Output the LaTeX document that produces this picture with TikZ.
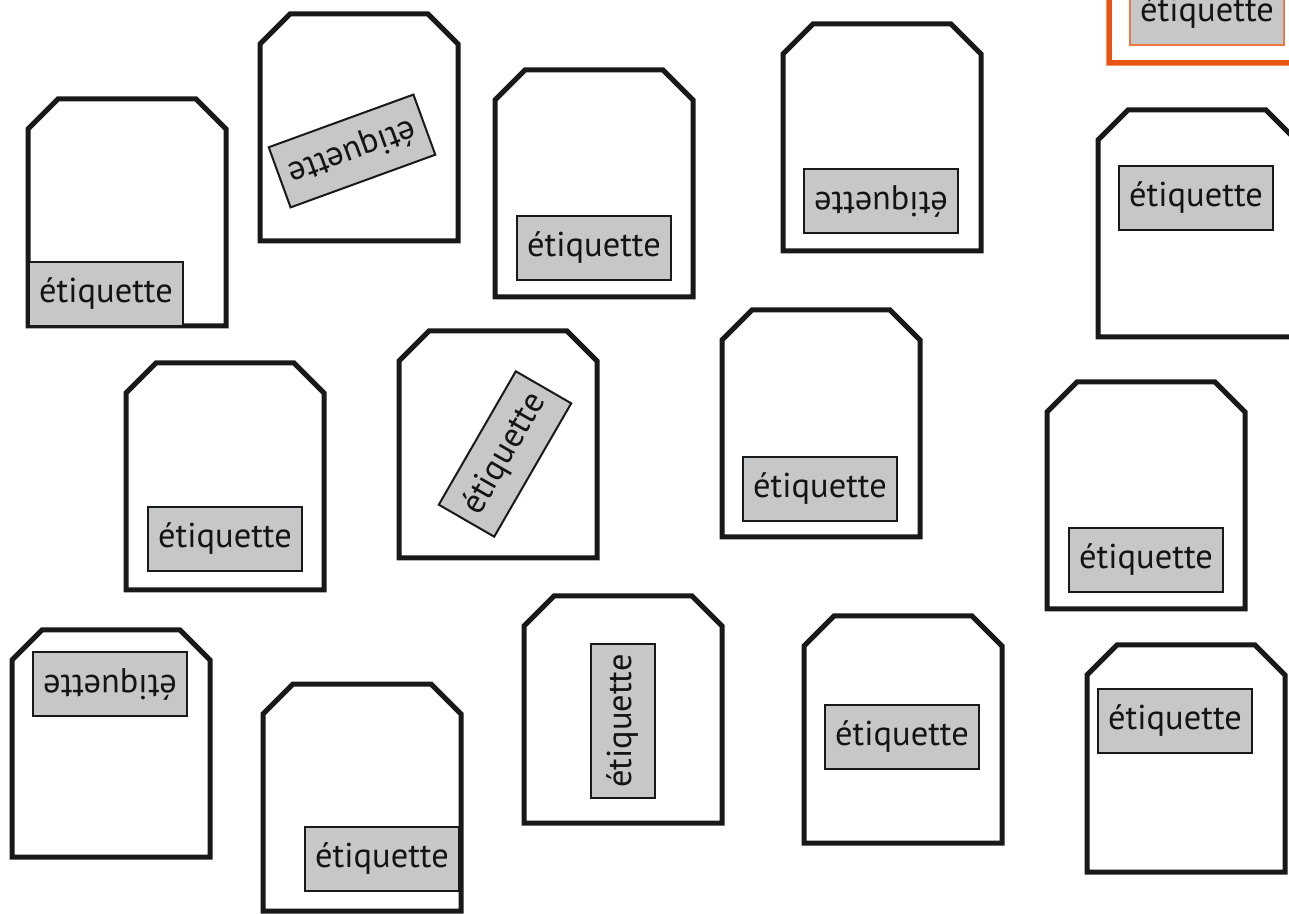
\documentclass[tikz,border=0pt]{standalone}
\usepackage{fontspec}
\setmainfont{PT Sans}
\definecolor{tagbg}{RGB}{198,199,201}
\definecolor{signal}{RGB}{232,84,18}
\definecolor{signallight}{RGB}{236,120,70}

\begin{document}
\begin{tikzpicture}[x=1pt,y=1pt,
    sachet/.style={draw=black!90,line width=5pt,fill=white},
    etiq/.style={draw=black!90,line width=2pt,fill=tagbg,minimum width=154pt,minimum height=64pt,inner sep=0pt,font=\fontsize{34.5}{38}\selectfont,text=black!92}]
    \useasboundingbox (0,0) rectangle (1289,913);
    \clip (0,0) rectangle (1289,913);
    % tag outlines, from their bottom left corners
    \foreach \x/\y in {28/587,260/672,495/616,783/662,1098/576,126/323,399/355,722/376,1047/304,12/56,263/2,524/90,804/70,1087/41}
      \draw[sachet] (\x,\y) -- ++(0,197) -- ++(30,30) -- ++(138,0) -- ++(30,-30) -- ++(0,-197) -- cycle;
    \draw[sachet,draw=signal,line width=5.5pt] (1109,850) -- ++(0,197) -- ++(30,30) -- ++(138,0) -- ++(30,-30) -- ++(0,-197) -- cycle;
    % labels
    \node[etiq] (e1) at (106,619) {étiquette};
    \node[etiq,rotate=200] (e2) at (352,762) {étiquette};
    \node[etiq] (e3) at (594,665) {étiquette};
    \node[etiq,rotate=180] (e4) at (881,712) {étiquette};
    \node[etiq,draw=signallight] (e5) at (1207,900) {étiquette};
    \node[etiq] (e6) at (1196,715) {étiquette};
    \node[etiq] (e7) at (225,374) {étiquette};
    \node[etiq,rotate=60] (e8) at (505,459) {étiquette};
    \node[etiq] (e9) at (820,424) {étiquette};
    \node[etiq] (e10) at (1146,353) {étiquette};
    \node[etiq,rotate=180] (e11) at (110,229) {étiquette};
    \node[etiq] (e12) at (382,54) {étiquette};
    \node[etiq,rotate=90] (e13) at (623,192) {étiquette};
    \node[etiq] (e14) at (902,176) {étiquette};
    \node[etiq] (e15) at (1175,192) {étiquette};
  \end{tikzpicture}
\end{document}
